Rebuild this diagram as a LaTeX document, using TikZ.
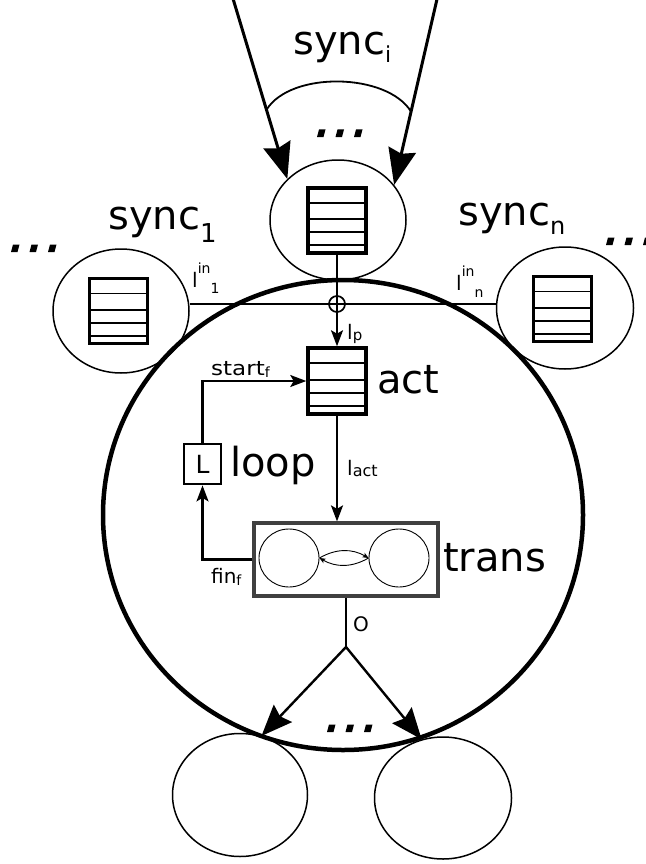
\documentclass[tikz,border=0pt]{standalone}
\usepackage{fontspec}
\setmainfont{DejaVu Sans}
\usetikzlibrary{arrows.meta,shapes.geometric,calc}

\newcommand{\bigfont}{\fontsize{40}{46}\selectfont}
\newcommand{\lblfont}{\fontsize{20}{24}\selectfont}
\newcommand{\subfont}[1]{\fontsize{#1}{#1}\selectfont}

\tikzset{
  mainring/.style={ellipse, draw, line width=4.5pt, minimum width=480pt, minimum height=470pt, inner sep=0pt},
  place/.style={ellipse, draw, line width=1.5pt, inner sep=0pt},
  queue/.style={rectangle, draw, line width=3.5pt, minimum width=58pt, minimum height=65pt, inner sep=0pt,
    path picture={
      \foreach \f in {0.23,0.48,0.68,0.88}
        \draw[line width=1.7pt]
          ($(path picture bounding box.north west)!\f!(path picture bounding box.south west)$) --
          ($(path picture bounding box.north east)!\f!(path picture bounding box.south east)$);
    }},
  transbox/.style={rectangle, draw=black!75, line width=3.2pt, minimum width=184pt, minimum height=73pt, inner sep=0pt},
  state/.style={ellipse, draw, line width=0.9pt, minimum width=60pt, minimum height=58pt, inner sep=0pt},
  loopbox/.style={rectangle, draw, line width=2.8pt, minimum width=37pt, minimum height=40pt, inner sep=0pt, font=\fontsize{25}{25}\selectfont},
  junction/.style={circle, draw, line width=1.7pt, minimum size=16pt, inner sep=0pt},
  conn/.style={line width=2.2pt},
  arr/.style={conn, -{Stealth[length=16pt,width=12pt,inset=3.5pt]}},
  bigarr/.style={line width=3pt, -{Stealth[length=36pt,width=28pt,inset=4pt]}},
  outarr/.style={line width=2.4pt, -{Stealth[length=31pt,width=25pt,inset=4pt]}},
  tinyarr/.style={line width=0.9pt, -{Stealth[length=6pt,width=5pt,inset=1.5pt]}},
  biglabel/.style={anchor=base west, inner sep=0pt, font=\bigfont},
  smalllabel/.style={anchor=base west, inner sep=0pt, font=\lblfont},
  dotrow/.pic={
    \foreach \i in {0,1,2}
      \fill[shift={(\i*18.5,0)}] (0,0) -- (6.5,0) -- (8.5,-7.5) -- (2,-7.5) -- cycle;
  }
}

\begin{document}
\begin{tikzpicture}[x=1pt,y=-1pt]
\useasboundingbox (0,0) rectangle (645,864);
\fill[white] (0,0) rectangle (645,864);

% central process ring
\node[mainring] (ring) at (343,515) {};

% synchronisation places and their queues
\node[place, minimum width=136pt, minimum height=120pt] (si) at (338,220) {};
\node[place, minimum width=136pt, minimum height=124pt] (s1) at (121,311) {};
\node[place, minimum width=137pt, minimum height=122pt] (sn) at (565,308) {};
\node[queue] (qi) at (337,220.5) {};
\node[queue] (q1) at (118.5,311) {};
\node[queue] (qn) at (562.5,309) {};

% output places
\node[place, minimum width=135pt, minimum height=123pt] (outl) at (240,795) {};
\node[place, minimum width=137pt, minimum height=122pt] (outr) at (443,798) {};

% activation queue, loop and transition system
\node[queue, minimum height=66pt] (act) at (337,381) {};
\node[loopbox] (L) at (202.5,464) {L};
\node[transbox] (trans) at (346,559.5) {};
\node[state] (c1) at (289,558) {};
\node[state] (c2) at (399,558) {};

% junction of the inputs
\node[junction] (xc) at (337,304) {};

% incoming synchronisation arrows
\coordinate (inL) at (232.5,-3);
\coordinate (inR) at (437.5,-3);
\draw[bigarr] (inL) -- (si.141);
\draw[bigarr] (inR) -- (si.32);
\coordinate (arcL) at ($(inL)!0.62!(si.141)$);
\coordinate (arcR) at ($(inR)!0.61!(si.32)$);
\draw[line width=1.8pt] (arcL) .. controls ($(arcL)+(24,-39)$) and ($(arcR)+(-24,-39)$) .. (arcR);

% input lines
\draw[line width=1.8pt] (xc.center -| s1.east) -- (xc.center -| sn.west);
\draw[arr] (qi.south) -- (act.north);

% inner flow
\draw[arr] (act.south) -- (act.south |- trans.north);
\draw[arr] (L.north) |- (act.west);
\draw[arr] (trans.west) -| (L.south);
\draw[tinyarr] (c1.east) to[bend left=30] (c2.west);
\draw[tinyarr] (c2.west) to[bend left=30] (c1.east);

% outputs
\coordinate (split) at (346,647);
\draw[conn] (trans.south) -- (split);
\draw[outarr] (split) -- (outl.70);
\draw[outarr] (split) -- (outr.110);

% ellipses
\pic at (11,252) {dotrow};
\pic at (317,137) {dotrow};
\pic at (327,732) {dotrow};
\pic at (606,245) {dotrow};

% big labels
\node[biglabel] (lbsi) at (293,55) {sync\raisebox{-8pt}{\subfont{22}i}};
\node[biglabel] (lbs1) at (108,229) {sync\raisebox{-13pt}{\subfont{26}1}};
\node[biglabel] (lbsn) at (458,225) {sync\raisebox{-9pt}{\subfont{24}n}};
\node[biglabel] (lbact) at (377,393) {act};
\node[biglabel] (lbloop) at (230,476) {loop};
\node[biglabel] (lbtrans) at (443,571) {trans};

% small labels
\node[smalllabel] (lbin1) at (192,287) {l\raisebox{14pt}{\subfont{14}in}\raisebox{-6pt}{\subfont{14}1}};
\node[smalllabel] (lbinn) at (456,290) {l\raisebox{14pt}{\subfont{14}in}\raisebox{-7pt}{\subfont{14}n}};
\node[smalllabel] (lbp) at (347,339) {l\raisebox{-1pt}{\subfont{15}p}};
\node[smalllabel] (lbactc) at (347,475) {l\raisebox{-1pt}{\subfont{16}act}};
\node[smalllabel] (lbstart) at (211,375) {\scalebox{1.15}[1]{start}\raisebox{-2pt}{\subfont{14}f}};
\node[smalllabel] (lbfin) at (211,583) {fin\raisebox{-2pt}{\subfont{14}f}};
\node[smalllabel] (lbo) at (353,631) {O};
\end{tikzpicture}
\end{document}
